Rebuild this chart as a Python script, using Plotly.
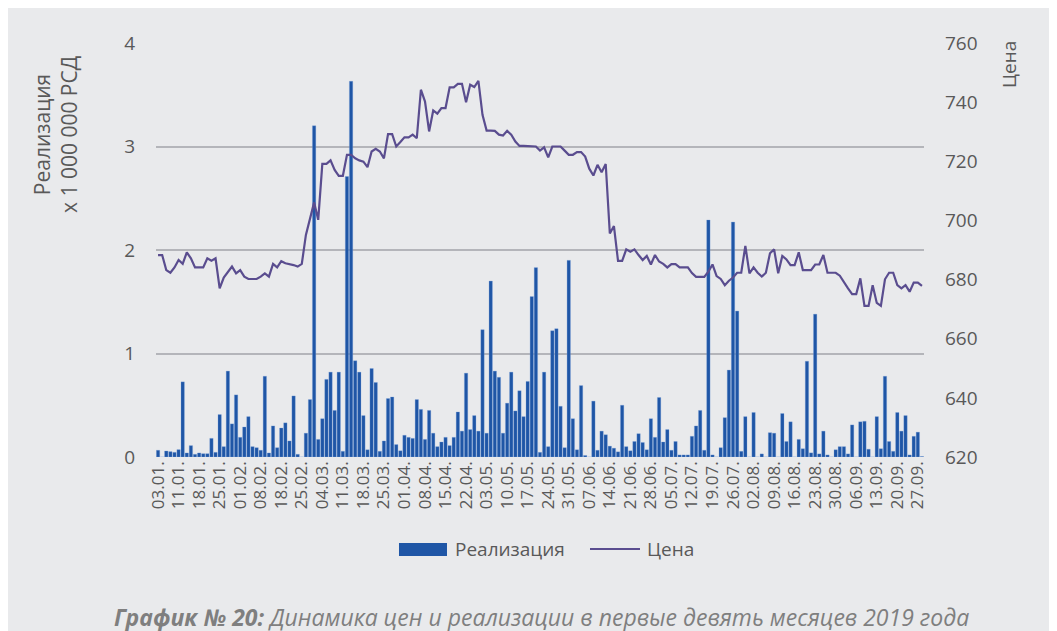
import pandas as pd
import plotly.graph_objects as go

# trading days (Serbia, 2019) - non-working holidays removed
holidays = ["2019-01-07", "2019-02-15", "2019-04-26", "2019-04-29", "2019-05-01", "2019-05-02"]
days = [d for d in pd.bdate_range("2019-01-03", "2019-09-30") if d.strftime("%Y-%m-%d") not in holidays]
dates = [d.strftime("%d.%m.") for d in days]

# Реализация, x 1 000 000 РСД
realizacija = [
    0.065, 0, 0.058, 0.052, 0.045, 0.071, 0.726, 0.039, 0.11, 0.026,
    0.039, 0.032, 0.032, 0.18, 0.045, 0.41, 0.10, 0.83, 0.32, 0.60,
    0.19, 0.29, 0.39, 0.10, 0.09, 0.065, 0.78, 0.039, 0.30, 0.09,
    0.28, 0.33, 0.155, 0.59, 0.026, 0, 0.23, 0.555, 3.2, 0.17,
    0.37, 0.75, 0.82, 0.45, 0.82, 0.055, 2.71, 3.63, 0.93, 0.82,
    0.40, 0.07, 0.855, 0.72, 0.055, 0.155, 0.565, 0.58, 0.12, 0.06,
    0.21, 0.19, 0.18, 0.555, 0.46, 0.17, 0.45, 0.23, 0.10, 0.145,
    0.19, 0.11, 0.19, 0.435, 0.25, 0.81, 0.265, 0.40, 0.25, 1.23,
    0.23, 1.70, 0.83, 0.77, 0.23, 0.52, 0.82, 0.445, 0.64, 0.39,
    0.73, 1.55, 1.83, 0.045, 0.82, 0.10, 1.22, 1.24, 0.49, 0.09,
    1.90, 0.37, 0.07, 0.69, 0.015, 0, 0.54, 0.065, 0.25, 0.215,
    0.105, 0.085, 0.05, 0.50, 0.10, 0.06, 0.15, 0.225, 0.14, 0.07,
    0.37, 0.19, 0.575, 0.145, 0.265, 0.065, 0.15, 0.02, 0.02, 0.02,
    0.20, 0.30, 0.45, 0.065, 2.29, 0.02, 0, 0.09, 0.38, 0.84,
    2.27, 1.41, 0.055, 0.39, 0, 0.43, 0, 0.03, 0, 0.235,
    0.23, 0, 0.42, 0.15, 0.34, 0, 0.17, 0.08, 0.925, 0.04,
    1.38, 0.03, 0.25, 0.02, 0, 0.07, 0.10, 0.10, 0.03, 0.31,
    0, 0.34, 0.345, 0.075, 0, 0.39, 0.08, 0.78, 0.15, 0.055,
    0.43, 0.25, 0.40, 0.02, 0.20, 0.24, 0.005,
]

# Цена
cena = [
    688.3, 688.3, 683.2, 682.3, 684.1, 686.6, 685.3, 689.2, 687.2, 684.1,
    684.1, 684.1, 687.2, 686.4, 687.2, 677.0, 680.7, 682.4, 684.4, 682.1,
    683.2, 681.0, 680.2, 680.2, 680.2, 681.0, 682.1, 681.0, 685.3, 684.1,
    686.2, 685.5, 685.3, 684.9, 684.4, 685.3, 695.1, 700.2, 706.1, 700.2,
    719.1, 719.1, 720.3, 717.1, 715.1, 715.1, 722.2, 722.2, 721.0, 720.3,
    719.9, 718.0, 723.3, 724.2, 723.3, 721.0, 729.2, 729.2, 725.0, 726.5,
    728.1, 728.1, 729.0, 727.8, 744.2, 740.2, 730.1, 737.2, 736.1, 738.0,
    738.0, 745.0, 745.0, 746.2, 746.2, 740.0, 745.9, 745.1, 747.2, 735.7,
    730.4, 730.4, 730.3, 729.0, 728.7, 730.3, 729.0, 726.7, 725.2, 725.2,
    725.2, 725.2, 725.0, 723.6, 724.7, 721.3, 725.0, 725.0, 725.0, 723.6,
    722.2, 722.2, 723.1, 723.1, 721.6, 717.5, 715.2, 718.8, 716.3, 719.1,
    695.6, 698.1, 686.3, 686.3, 690.2, 689.4, 690.2, 688.3, 686.6, 688.0,
    685.1, 688.3, 686.1, 685.3, 684.1, 685.2, 685.2, 684.1, 684.1, 684.1,
    682.2, 680.9, 680.9, 680.9, 682.7, 685.1, 681.2, 680.2, 678.1, 679.6,
    680.7, 682.3, 682.3, 691.4, 682.1, 684.1, 682.3, 681.0, 682.3, 688.9,
    690.2, 682.1, 688.0, 686.8, 684.9, 684.9, 689.2, 683.2, 683.2, 683.2,
    685.1, 685.1, 688.3, 682.3, 682.3, 682.3, 681.3, 679.0, 677.0, 675.1,
    675.1, 680.4, 671.1, 671.1, 678.1, 672.1, 671.1, 680.1, 682.3, 682.3,
    678.1, 677.0, 678.1, 675.9, 679.0, 679.0, 677.9,
]

tick_labels = dates[::5]

bg = "#e9eaec"
txt = "#595959"
bar_color = "#1f56a6"
line_color = "#5a4d8f"
font = "Open Sans"

fig = go.Figure()
fig.add_trace(go.Bar(x=dates, y=realizacija, name="Реализация",
                     marker_color=bar_color, marker_line_color="rgba(120,160,220,0.6)",
                     marker_line_width=0.5))
fig.add_trace(go.Scatter(x=dates, y=cena, name="Цена", mode="lines", yaxis="y2",
                         line=dict(color=line_color, width=2.2)))

# page body has an 8px margin, so the figure margins are shifted to compensate
fig.update_layout(
    width=1057, height=631,
    paper_bgcolor=bg, plot_bgcolor=bg,
    margin=dict(l=148, r=141, t=35, b=182),
    font=dict(family=font, color=txt),
    bargap=0.18,
    showlegend=False,
    xaxis=dict(type="category", tickmode="array", tickvals=tick_labels, ticktext=tick_labels,
               tickangle=-90, tickfont=dict(size=17, color=txt), showgrid=False,
               showline=False, ticks="", range=[-0.5, len(dates) - 0.5]),
    yaxis=dict(range=[0, 4], dtick=1, gridcolor="#b4b5ba", gridwidth=1.5, zeroline=False,
               tickfont=dict(size=19, color=txt), ticklabelstandoff=20, showline=False),
    yaxis2=dict(range=[620, 760], dtick=20, overlaying="y", side="right", showgrid=False,
                zeroline=False, tickfont=dict(size=19, color=txt), ticklabelstandoff=20),
)

# legend drawn by hand (wide bar swatch like the original)
fig.add_shape(type="rect", xref="paper", yref="paper", x0=0.3164, x1=0.3789,
              y0=-0.2391, y1=-0.2077, fillcolor=bar_color, line_width=0)
fig.add_shape(type="line", xref="paper", yref="paper", x0=0.5651, x1=0.6302,
              y0=-0.2222, y1=-0.2222, line=dict(color=line_color, width=2.2))
fig.add_annotation(text="Реализация", xref="paper", yref="paper", x=0.3867, y=-0.2222,
                   xanchor="left", yanchor="middle", showarrow=False,
                   font=dict(size=19, color=txt))
fig.add_annotation(text="Цена", xref="paper", yref="paper", x=0.6367, y=-0.2222,
                   xanchor="left", yanchor="middle", showarrow=False,
                   font=dict(size=19, color=txt))

# axis titles
fig.add_annotation(text="Реализация<br>x 1 000 000 РСД", xref="paper", yref="paper",
                   x=-0.1302, y=0.7778, xanchor="center", yanchor="middle",
                   textangle=-90, showarrow=False, font=dict(size=21, color=txt))
fig.add_annotation(text="Цена", xref="paper", yref="paper", x=1.1107, y=0.9469,
                   xanchor="center", yanchor="middle", textangle=-90, showarrow=False,
                   font=dict(size=19, color=txt))

# caption
fig.add_annotation(text="<b><i>График № 20:</i></b><i> Динамика цен и реализации в первые девять месяцев 2019 года</i>",
                   xref="paper", yref="paper", x=0.5026, y=-0.3865,
                   xanchor="center", yanchor="middle", showarrow=False,
                   font=dict(size=23, color="#7f7f7f"))

fig.write_html("out.html")
